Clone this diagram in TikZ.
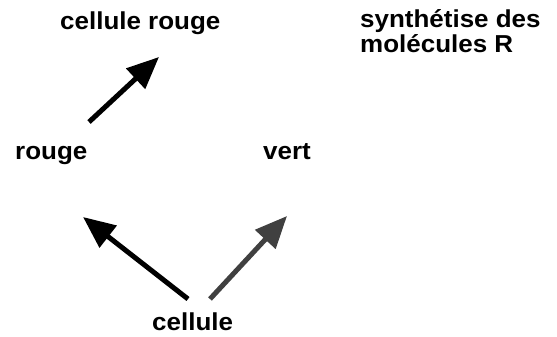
\documentclass[tikz,border=0pt]{standalone}
\usepackage{fontspec}
\setmainfont{Liberation Sans}[FakeStretch=1.06]
\usetikzlibrary{arrows.meta}
\definecolor{arrowgrey}{HTML}{404040}
\tikzset{
  lbl/.style={anchor=base west, inner sep=0pt, font=\fontsize{24.5}{25}\selectfont\bfseries, align=left},
  link/.style={line width=5pt, -{Triangle[length=32pt,width=27pt]}},
}
\begin{document}
\begin{tikzpicture}[x=1pt, y=-1pt]
  \useasboundingbox (0,0) rectangle (557,337);
  % labels (the base anchor of a two-line node is the last line's baseline)
  \node[lbl] (cr)   at (60,30)  {cellule rouge};
  \node[lbl] (syn)  at (360,53) {synthétise des\\molécules R};
  \node[lbl] (rg)   at (15,159) {rouge};
  \node[lbl] (vt)   at (263,159) {vert};
  \node[lbl] (cel)  at (152,330) {cellule};
  % arrow end points
  \coordinate (rgT) at (89,122);
  \coordinate (crH) at (159,57);
  \coordinate (celL) at (188,299);
  \coordinate (rgH) at (83,217);
  \coordinate (celR) at (210,299);
  \coordinate (vtH) at (287,216);
  % arrows
  \draw[link] (rgT) -- (crH);
  \draw[link] (celL) -- (rgH);
  \draw[link, draw=arrowgrey, fill=arrowgrey] (celR) -- (vtH);
\end{tikzpicture}
\end{document}
